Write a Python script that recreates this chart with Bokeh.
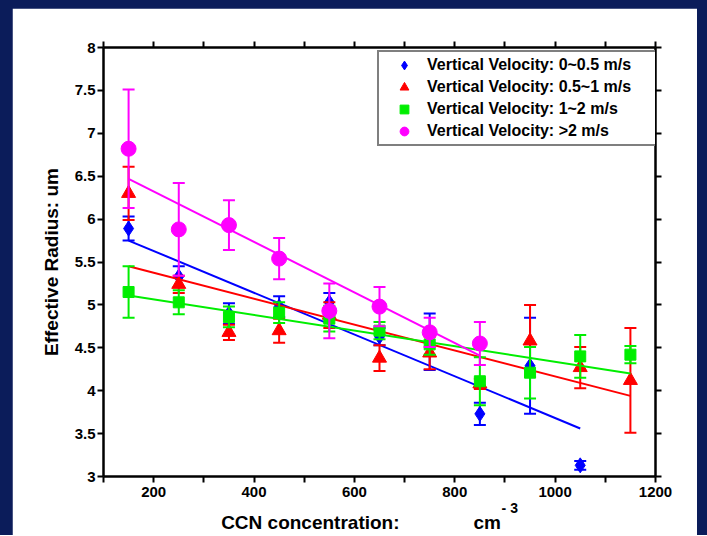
from bokeh.plotting import figure
from bokeh.models import (Range1d, FixedTicker, LinearAxis, Legend, LegendItem,
                          ColumnDataSource)
from bokeh.layouts import column
from bokeh.embed import file_html
from bokeh.resources import INLINE

# ---------------- data ----------------
labels = ["Vertical Velocity: 0~0.5 m/s", "Vertical Velocity: 0.5~1 m/s",
          "Vertical Velocity: 1~2 m/s", "Vertical Velocity: >2 m/s"]

x_blue = [150, 250, 350, 450, 550, 650, 750, 850, 950, 1050]
y_blue = [5.89, 5.33, 4.90, 4.98, 5.03, 4.63, 4.57, 3.73, 4.29, 3.13]
e_blue = [0.14, 0.12, 0.12, 0.12, 0.11, 0.10, 0.33, 0.13, 0.56, 0.05]

x_red = [150, 250, 350, 450, 550, 650, 750, 850, 950, 1050, 1150]
y_red = [6.30, 5.24, 4.68, 4.70, 4.88, 4.38, 4.44, 4.08, 4.58, 4.27, 4.12]
e_red = [0.31, 0.10, 0.09, 0.14, 0.15, 0.15, 0.19, 0.06, 0.42, 0.24, 0.61]

x_green = [150, 250, 350, 450, 550, 650, 750, 850, 950, 1050, 1150]
y_green = [5.15, 5.03, 4.86, 4.91, 4.84, 4.70, 4.54, 4.11, 4.21, 4.40, 4.42]
e_green = [0.30, 0.14, 0.12, 0.12, 0.15, 0.10, 0.12, 0.28, 0.30, 0.25, 0.10]

x_mag = [150, 250, 350, 450, 550, 650, 750, 850]
y_mag = [6.82, 5.88, 5.93, 5.54, 4.93, 4.98, 4.68, 4.55]
e_mag = [0.69, 0.54, 0.29, 0.24, 0.32, 0.23, 0.17, 0.25]

# linear-fit lines (end points)
fit_x_blue = [150, 1050];  fit_y_blue = [5.75, 3.56]
fit_x_red = [150, 1150];   fit_y_red = [5.45, 3.94]
fit_x_green = [150, 1150]; fit_y_green = [5.11, 4.20]
fit_x_mag = [150, 850];    fit_y_mag = [6.47, 4.41]

x_ticks = [200, 400, 600, 800, 1000, 1200]
x_minor = [100, 300, 500, 700, 900, 1100]
x_top_ticks = [100, 200, 300, 400, 500, 600, 700, 800, 900, 1000, 1100, 1200]
y_ticks = [3, 3.5, 4, 4.5, 5, 5.5, 6, 6.5, 7, 7.5, 8]
y_tick_labels = ["3", "3.5", "4", "4.5", "5", "5.5", "6", "6.5", "7", "7.5", "8"]

x_title = "CCN concentration:"
x_unit = "cm"
x_unit_sup = "- 3"
y_title = "Effective Radius: um"

# ---------------- figure ----------------
FONT = "Liberation Sans"
NAVY = "#0b1c5a"
NB = "\u00a0"

p = figure(frame_width=552, frame_height=429,
           x_range=Range1d(100, 1200), y_range=Range1d(3, 8),
           output_backend="svg", toolbar_location=None,
           min_border_left=91, min_border_right=42, min_border_top=39, min_border_bottom=20,
           border_fill_color="white", background_fill_color="white",
           outline_line_color=None, margin=(8, 10, 0, 12))
p.xgrid.visible = False
p.ygrid.visible = False


def style_axis(ax):
    ax.axis_line_width = 2.5
    ax.axis_line_color = "black"
    ax.major_tick_line_width = 2
    ax.minor_tick_line_width = 2
    ax.major_tick_in = 0
    ax.major_tick_out = 6
    ax.minor_tick_in = 0
    ax.minor_tick_out = 6
    ax.major_label_text_font = FONT
    ax.major_label_text_font_style = "bold"
    ax.major_label_text_font_size = "15px"
    ax.major_label_text_color = "black"
    ax.axis_label_text_font = FONT
    ax.axis_label_text_font_style = "bold"
    ax.axis_label_text_font_size = "19px"
    ax.axis_label_text_color = "black"


# bottom axis: its own label carries the unit's superscript
xa = p.xaxis[0]
xa.ticker = FixedTicker(ticks=x_ticks, minor_ticks=x_minor)
style_axis(xa)
xa.major_label_standoff = 4
xa.axis_label = NB * 67 + x_unit_sup
xa.axis_label_text_font_size = "14px"
xa.axis_label_standoff = 0

# second, bare axis below that holds the title line
xt = LinearAxis(ticker=FixedTicker(ticks=[], minor_ticks=[]))
style_axis(xt)
xt.axis_line_color = None
xt.major_tick_out = 0
xt.minor_tick_out = 0
xt.major_label_standoff = 0
xt.axis_label = x_title + NB * 14 + x_unit + NB * 7
xt.axis_label_standoff = -7
p.add_layout(xt, "below")

ya = p.yaxis[0]
ya.ticker = FixedTicker(ticks=y_ticks, minor_ticks=[])
style_axis(ya)
ya.major_label_overrides = {t: s for t, s in zip(y_ticks, y_tick_labels)}
ya.major_label_standoff = 2
ya.axis_label = y_title
ya.axis_label_standoff = 10

top = LinearAxis(ticker=FixedTicker(ticks=x_top_ticks, minor_ticks=[]))
style_axis(top)
top.major_label_overrides = {t: "" for t in x_top_ticks}
p.add_layout(top, "above")

right = LinearAxis(ticker=FixedTicker(ticks=y_ticks, minor_ticks=[]))
style_axis(right)
right.major_label_overrides = {t: "" for t in y_ticks}
p.add_layout(right, "right")

series = [
    (x_blue, y_blue, e_blue, fit_x_blue, fit_y_blue, "#0000ff", "diamond", 15),
    (x_red, y_red, e_red, fit_x_red, fit_y_red, "#ff0000", "triangle", 14),
    (x_green, y_green, e_green, fit_x_green, fit_y_green, "#00ee00", "square", 11),
    (x_mag, y_mag, e_mag, fit_x_mag, fit_y_mag, "#ff00ff", "circle", 15),
]

items = []
for (xs, ys, es, fx, fy, col, mk, sz), lab in zip(series, labels):
    lo = [y - e for y, e in zip(ys, es)]
    hi = [y + e for y, e in zip(ys, es)]
    src = ColumnDataSource(dict(x=xs, y=ys, lo=lo, hi=hi))
    p.segment(x0="x", y0="lo", x1="x", y1="hi", source=src, line_color=col, line_width=2)
    p.scatter(x="x", y="hi", source=src, marker="dash", size=12, line_color=col, line_width=2)
    p.scatter(x="x", y="lo", source=src, marker="dash", size=12, line_color=col, line_width=2)
    r = p.scatter(x="x", y="y", source=src, marker=mk, size=sz, fill_color=col, line_color=col)
    p.line(fx, fy, line_color=col, line_width=2)
    items.append(LegendItem(label=lab, renderers=[r]))

legend = Legend(items=items, location=(274, 330),
                border_line_color="black", border_line_width=2.5,
                background_fill_color="white", background_fill_alpha=1.0,
                label_text_font=FONT, label_text_font_style="bold",
                label_text_font_size="16px", label_text_color="black",
                glyph_height=22, glyph_width=46, label_height=20,
                spacing=0, padding=2, label_standoff=0, label_width=227,
                margin=0)
p.add_layout(legend)

layout = column(p, styles={"background-color": NAVY})

open("out.html", "w").write(file_html(layout, INLINE))
